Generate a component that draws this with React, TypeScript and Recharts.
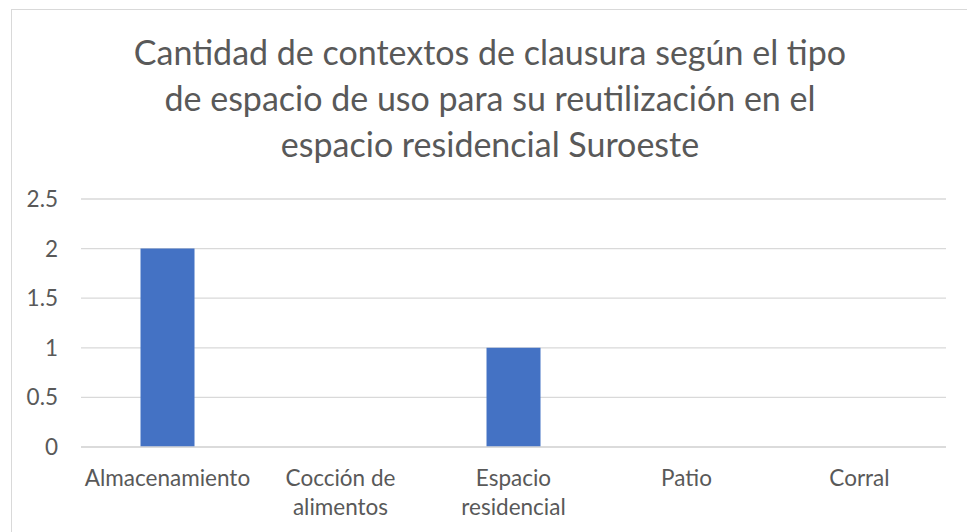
import React from "react";
import { BarChart, Bar, XAxis, YAxis, CartesianGrid } from "recharts";

const categories = [
  "Almacenamiento",
  "Cocción de\nalimentos",
  "Espacio\nresidencial",
  "Patio",
  "Corral",
];
const values = [2, 0, 1, 0, 0];
const yTicks = [0, 0.5, 1, 1.5, 2, 2.5];
const titleLines = [
  "Cantidad de contextos de clausura según el tipo",
  "de espacio de uso para su reutilización en el",
  "espacio residencial Suroeste",
];

const data = categories.map((c, i) => ({ name: c, value: values[i] }));

const FONT = "Lato, 'Open Sans', sans-serif";
const TEXT = "#595959";

const XTick = (props: any) => {
  const { x, y, payload } = props;
  const lines = String(payload.value).split("\n");
  return (
    <text x={x} y={y} textAnchor="middle" fill={TEXT} fontFamily={FONT} fontSize={22.5}>
      {lines.map((l, i) => (
        <tspan key={i} x={x} dy={i === 0 ? 33 : 29}>
          {l}
        </tspan>
      ))}
    </text>
  );
};

export default function App() {
  return (
    <div
      style={{
        position: "absolute",
        left: 0,
        top: 0,
        width: 967,
        height: 532,
        overflow: "hidden",
        background: "#ffffff",
      }}
    >
      <div
        style={{
          position: "absolute",
          left: 11,
          top: 9,
          width: 1000,
          height: 600,
          border: "1px solid #d9d9d9",
          boxSizing: "border-box",
        }}
      />
      <svg
        width={967}
        height={180}
        style={{ position: "absolute", left: 0, top: 0 }}
      >
        {titleLines.map((t, i) => (
          <text
            key={i}
            x={490}
            y={65 + i * 46}
            textAnchor="middle"
            fill={TEXT}
            fontFamily={FONT}
            fontSize={34}
          >
            {t}
          </text>
        ))}
      </svg>
      <div style={{ position: "absolute", left: 0, top: 0 }}>
        <BarChart
          width={967}
          height={532}
          data={data}
          margin={{ top: 199, right: 21, left: 0, bottom: 0 }}
          barCategoryGap="34.4%"
        >
          <CartesianGrid vertical={false} stroke="#d9d9d9" strokeWidth={1.3} />
          <XAxis
            dataKey="name"
            interval={0}
            tickLine={false}
            axisLine={{ stroke: "#d9d9d9", strokeWidth: 1.3 }}
            tick={<XTick />}
            tickMargin={0}
            height={85}
          />
          <YAxis
            width={81}
            domain={[0, 2.5]}
            ticks={yTicks}
            axisLine={false}
            tickLine={false}
            tickMargin={17}
            tick={{ fill: TEXT, fontFamily: FONT, fontSize: 22.5 }}
          />
          <Bar dataKey="value" fill="#4472c4" isAnimationActive={false} />
        </BarChart>
      </div>
    </div>
  );
}
